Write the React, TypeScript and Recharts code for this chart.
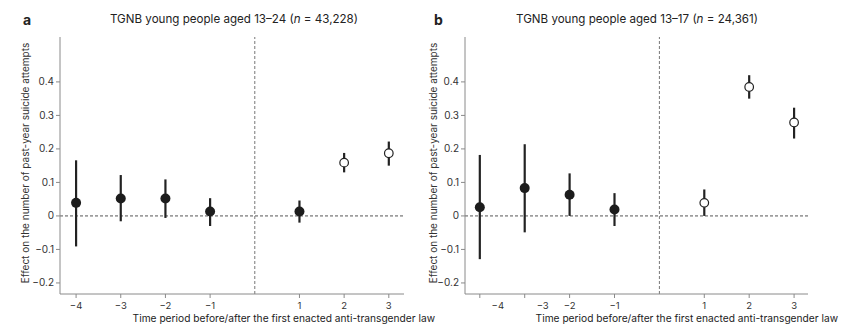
import React from "react";
import {
  ScatterChart,
  Scatter,
  XAxis,
  YAxis,
  ErrorBar,
  ReferenceLine,
} from "recharts";

// time periods relative to the first enacted law
const periods = [-4, -3, -2, -1, 1, 2, 3];
const xTicks = [-4, -3, -2, -1, 1, 2, 3];
const yTicks = [-0.2, -0.1, 0, 0.1, 0.2, 0.3, 0.4];

// panel a: aged 13-24
const estA = [0.039, 0.052, 0.052, 0.013, 0.013, 0.159, 0.187];
const lowA = [-0.091, -0.016, -0.006, -0.03, -0.02, 0.13, 0.15];
const highA = [0.166, 0.122, 0.109, 0.053, 0.046, 0.188, 0.222];
const openA = [false, false, false, false, false, true, true];

// panel b: aged 13-17
const estB = [0.026, 0.083, 0.063, 0.019, 0.039, 0.385, 0.279];
const lowB = [-0.129, -0.049, 0.0, -0.03, 0.0, 0.35, 0.231];
const highB = [0.182, 0.214, 0.127, 0.068, 0.079, 0.42, 0.323];
const openB = [false, false, false, false, true, true, true];

const INK = "#222";
const AXIS = "#8a8a8a";

const build = (est: number[], low: number[], high: number[], open: boolean[]) =>
  periods.map((p, i) => ({
    x: p,
    y: est[i],
    err: [est[i] - low[i], high[i] - est[i]],
    open: open[i],
  }));

const fmt = (v: number) => {
  if (v === 0) return "0";
  const s = Math.abs(v).toFixed(Number.isInteger(v) ? 0 : 1);
  return v < 0 ? "\u2212" + s : s;
};

const Dot = (props: any) => {
  const { cx, cy, payload } = props;
  if (cx == null || cy == null) return null;
  if (payload.open) {
    return <circle cx={cx} cy={cy} r={4.3} fill="#fff" stroke={INK} strokeWidth={1.2} />;
  }
  return <circle cx={cx} cy={cy} r={5} fill="#1c1c1c" />;
};

const makeXTick = (shift: Record<number, number>) => (props: any) => {
  const { x, y, payload } = props;
  const dx = shift[payload.value] || 0;
  return (
    <text x={x + dx} y={y + 9} textAnchor="middle" fontSize={9.5} fill="#333">
      {fmt(payload.value)}
    </text>
  );
};

interface PanelProps {
  data: any[];
  width: number;
  yWidth: number;
  right: number;
  domain: [number, number];
  tickShift?: Record<number, number>;
}

const Panel: React.FC<PanelProps> = ({ data, width, yWidth, right, domain, tickShift = {} }) => (
  <ScatterChart width={width} height={327} margin={{ top: 37, right, left: 0, bottom: 0 }}>
    <XAxis
      type="number"
      dataKey="x"
      domain={domain}
      ticks={xTicks}
      height={33}
      stroke={AXIS}
      tickSize={4}
      tick={makeXTick(tickShift)}
      interval={0}
      allowDataOverflow
    />
    <YAxis
      type="number"
      dataKey="y"
      domain={[-0.233, 0.534]}
      ticks={yTicks}
      width={yWidth}
      stroke={AXIS}
      tickSize={4}
      tickFormatter={fmt}
      tick={{ fontSize: 10, fill: "#333" }}
      interval={0}
      allowDataOverflow
    />
    <ReferenceLine y={0} stroke="#555" strokeDasharray="3 2" strokeWidth={1} />
    <ReferenceLine x={0} stroke="#777" strokeDasharray="3 2" strokeWidth={1} />
    <Scatter data={data} shape={<Dot />} isAnimationActive={false}>
      <ErrorBar dataKey="err" direction="y" width={0} stroke={INK} strokeWidth={2.2} />
    </Scatter>
  </ScatterChart>
);

const ylabel = "Effect on the number of past-year suicide attempts";
const xlabel = "Time period before/after the first enacted anti-transgender law";

export default function App() {
  const dataA = build(estA, lowA, highA, openA);
  const dataB = build(estB, lowB, highB, openB);
  const txt: React.CSSProperties = { position: "absolute", whiteSpace: "nowrap", color: "#222" };
  return (
    <div
      style={{
        position: "absolute",
        left: 0,
        top: 0,
        width: 849,
        height: 327,
        background: "#fff",
        fontFamily: "Inter, 'Liberation Sans', sans-serif",
      }}
    >
      <div style={{ position: "absolute", left: 0, top: 0 }}>
        <Panel data={dataA} width={420} yWidth={60} right={16} domain={[-4.36, 3.34]} />
      </div>
      <div style={{ position: "absolute", left: 420, top: 0 }}>
        <Panel
          data={dataB}
          width={429}
          yWidth={45}
          right={41}
          domain={[-4.33, 3.31]}
          tickShift={{ [-4]: 18, [-3]: 18 }}
        />
      </div>

      <div style={{ ...txt, left: 23, top: 11, fontWeight: 700, fontSize: 14 }}>a</div>
      <div style={{ ...txt, left: 434, top: 11, fontWeight: 700, fontSize: 14 }}>b</div>

      <div style={{ ...txt, left: 234, top: 12, fontSize: 11.6, transform: "translateX(-50%)" }}>
        TGNB young people aged 13–24 (<i>n</i> = 43,228)
      </div>
      <div style={{ ...txt, left: 637, top: 12, fontSize: 11.6, transform: "translateX(-50%)" }}>
        TGNB young people aged 13–17 (<i>n</i> = 24,361)
      </div>

      <div
        style={{
          ...txt,
          left: 25,
          top: 163,
          fontSize: 10,
          color: "#333",
          transform: "translate(-50%, -50%) rotate(-90deg)",
        }}
      >
        {ylabel}
      </div>
      <div
        style={{
          ...txt,
          left: 433,
          top: 163,
          fontSize: 10,
          color: "#333",
          transform: "translate(-50%, -50%) rotate(-90deg)",
        }}
      >
        {ylabel}
      </div>

      <div style={{ ...txt, right: 849 - 435, top: 313, fontSize: 10.2, lineHeight: "11px" }}>
        {xlabel}
      </div>
      <div style={{ ...txt, right: 849 - 838, top: 313, fontSize: 10.2, lineHeight: "11px" }}>
        {xlabel}
      </div>
    </div>
  );
}
